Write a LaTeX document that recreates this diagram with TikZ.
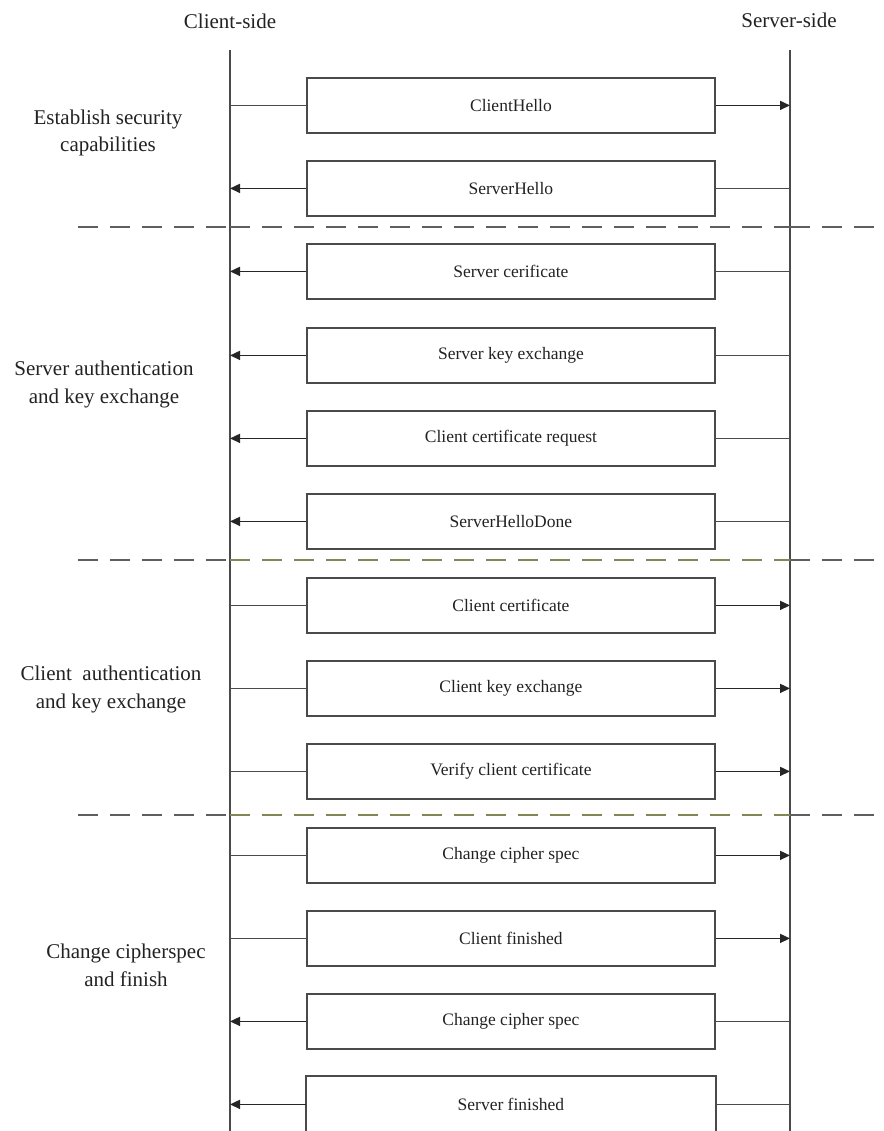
\documentclass[tikz,border=0pt]{standalone}
\usepackage{fontspec}
\setmainfont{Liberation Serif}
\usetikzlibrary{arrows.meta}
\definecolor{linegrey}{HTML}{4A4A4A}
\definecolor{dashgrey}{HTML}{5E5E5E}
\definecolor{dasholive}{HTML}{85855A}
\definecolor{txt}{HTML}{222222}
\tikzset{
  msgbox/.style={draw=linegrey, line width=1.8pt, minimum width=408pt, minimum height=55pt,
    inner sep=0pt, font=\fontsize{17.5}{20}\selectfont, text=txt, anchor=north west},
  openbox/.style={msgbox, draw=none},
  boxedge/.style={draw=linegrey, line width=1.8pt},
  lifeline/.style={draw=linegrey, line width=1.8pt},
  plainlink/.style={draw=linegrey, line width=1.6pt},
  arrowlink/.style={draw=black!85, line width=1.6pt, -{Triangle[length=10pt,width=9pt]}},
  header/.style={font=\fontsize{21}{27}\selectfont, text=txt, anchor=base},
  grouplabel/.style={font=\fontsize{21}{27.5}\selectfont, text=txt, align=center, anchor=base},
  sepgrey/.style={draw=dashgrey, line width=1.8pt, dash pattern=on 20pt off 12pt},
  sepolive/.style={draw=dasholive, line width=1.8pt, dash pattern=on 20pt off 12pt},
}
\begin{document}
\begin{tikzpicture}[x=1pt,y=-1pt]
\useasboundingbox (0,0) rectangle (883,1131);
% lifelines
\coordinate (ctop) at (230,50);
\coordinate (cbot) at (230,1140);
\coordinate (stop) at (790,50);
\coordinate (sbot) at (790,1140);
\draw[lifeline] (ctop) -- (cbot);
\draw[lifeline] (stop) -- (sbot);
% headers
\node[header] (hc) at (230,29) {Client-side};
\node[header] (hs) at (789,28) {Server-side};
% separators
\coordinate (d1a) at (78,227); \coordinate (d1b) at (900,227);
\coordinate (d2a) at (78,560); \coordinate (d2b) at (900,560);
\coordinate (d3a) at (78,815); \coordinate (d3b) at (900,815);
\draw[sepgrey] (d1a) -- (ctop |- d1a);
\draw[sepgrey] (ctop |- d1a) -- (stop |- d1a);
\draw[sepgrey] (stop |- d1a) -- (d1b);
\draw[sepgrey] (d2a) -- (ctop |- d2a);
\draw[sepolive] (ctop |- d2a) -- (stop |- d2a);
\draw[sepgrey] (stop |- d2a) -- (d2b);
\draw[sepgrey] (d3a) -- (ctop |- d3a);
\draw[sepolive] (ctop |- d3a) -- (stop |- d3a);
\draw[sepgrey] (stop |- d3a) -- (d3b);
% group labels (anchor at baseline of the last line)
\node[grouplabel] (g1) at (108,152) {Establish security\\capabilities};
\node[grouplabel] (g2) at (104,403) {Server authentication\\and key exchange};
\node[grouplabel] (g3) at (111,708) {Client\ \ authentication\\and key exchange};
\node[grouplabel] (g4) at (126,986) {Change cipherspec\\and finish};
% message boxes
\node[msgbox] (m1) at (306,77) {ClientHello};
\node[msgbox] (m2) at (306,160) {ServerHello};
\node[msgbox] (m3) at (306,243) {Server cerificate};
\node[msgbox] (m4) at (306,327) {Server key exchange};
\node[msgbox] (m5) at (306,410) {Client certificate request};
\node[msgbox] (m6) at (306,493) {ServerHelloDone};
\node[msgbox] (m7) at (306,577) {Client certificate};
\node[msgbox] (m8) at (306,660) {Client key exchange};
\node[msgbox] (m9) at (306,743) {Verify client certificate};
\node[msgbox] (m10) at (306,827) {Change cipher spec};
\node[msgbox] (m11) at (306,910) {Client finished};
\node[msgbox] (m12) at (306,993) {Change cipher spec};
\node[openbox] (m13) at (306,1076) {Server finished};
\draw[boxedge] ([yshift=-10pt]m13.south west) -- (m13.north west) -- (m13.north east) -- ([yshift=-10pt]m13.south east);
% client to server
\foreach \m in {m1,m7,m8,m9,m10,m11}{
  \draw[plainlink] (ctop |- \m.west) -- (\m.west);
  \draw[arrowlink] (\m.east) -- (stop |- \m.east);
}
% server to client
\foreach \m in {m2,m3,m4,m5,m6,m12,m13}{
  \draw[plainlink] (stop |- \m.east) -- (\m.east);
  \draw[arrowlink] (\m.west) -- (ctop |- \m.west);
}
\end{tikzpicture}
\end{document}
